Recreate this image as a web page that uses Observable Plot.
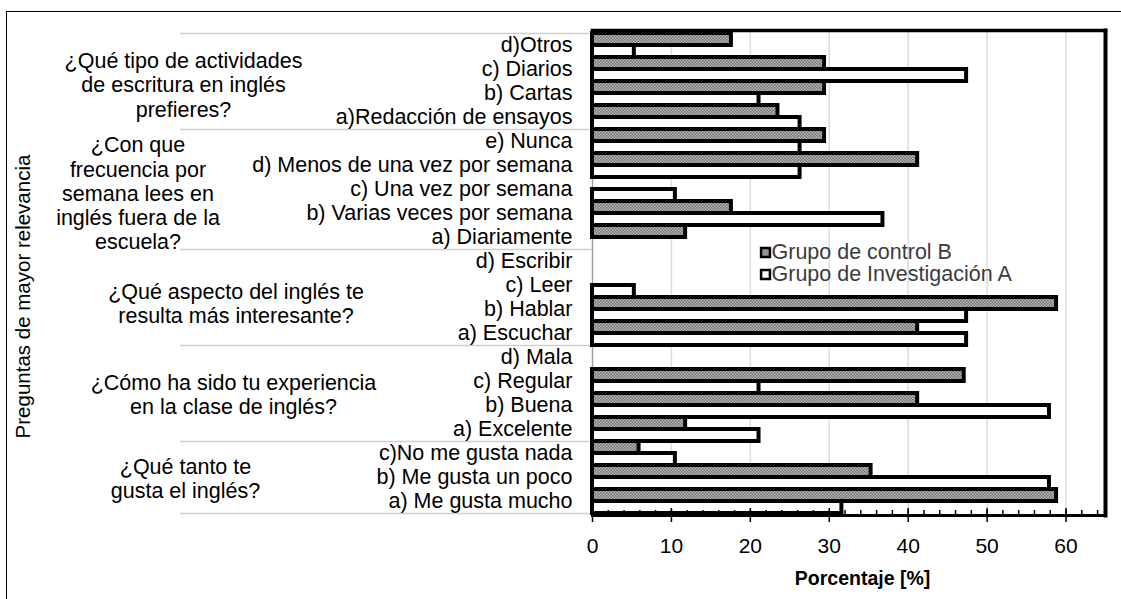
<!DOCTYPE html>
<html><head><meta charset="utf-8">
<script src="https://cdn.jsdelivr.net/npm/d3@7"></script>
<script src="https://cdn.jsdelivr.net/npm/@observablehq/plot@0.6"></script>
<style>
html,body{margin:0;padding:0;background:#fff;}
#wrap{position:relative;width:1121px;height:599px;overflow:hidden;background:#fff;}
#outer{position:absolute;left:6px;top:11px;width:1300px;height:800px;border-left:1.5px solid #000;border-top:1.5px solid #000;pointer-events:none;}
</style></head>
<body><div id="wrap"><div id="outer"></div></div>
<script>
// ---- data ----
const categories = [
  "d)Otros","c) Diarios","b) Cartas","a)Redacción de ensayos",
  "e) Nunca","d) Menos de una vez por semana","c) Una vez por semana","b) Varias veces por semana","a) Diariamente",
  "d) Escribir","c) Leer","b) Hablar","a) Escuchar",
  "d) Mala","c) Regular","b) Buena","a) Excelente",
  "c)No me gusta nada","b) Me gusta un poco","a) Me gusta mucho"
];
const grupoB = [17.6,29.4,29.4,23.5, 29.4,41.2,0,17.6,11.8, 0,0,58.8,41.2, 0,47.1,41.2,11.8, 5.9,35.3,58.8];
const grupoA = [5.3,47.4,21.1,26.3, 26.3,26.3,10.5,36.8,0, 0,5.3,47.4,47.4, 0,21.1,57.9,21.1, 10.5,57.9,31.6];
const questions = [
  "¿Qué tipo de actividades\nde escritura en inglés\nprefieres?",
  "¿Con que\nfrecuencia por\nsemana lees en\ninglés fuera de la\nescuela?",
  "¿Qué aspecto del inglés te\nresulta más interesante?",
  "¿Cómo ha sido tu experiencia\nen la clase de inglés?",
  "¿Qué tanto te\ngusta el inglés?"
];
const questionSizes = [4,5,4,4,3];
const seriesNames = ["Grupo de control B","Grupo de Investigación A"];
const xTicks = [0,10,20,30,40,50,60];
const xMinorTicks = [0,2,4,6,8,10,12,14,16,18,20,22,24,26,28,30,32,34,36,38,40,42,44,46,48,50,52,54,56,58,60,62,64];
const xLabel = "Porcentaje [%]";
const yLabel = "Preguntas de mayor relevancia";

// ---- layout ----
const W = 1121, H = 599, ML = 592, MR = 16, MT = 30, MB = 84;
const bw = (H - MT - MB) / (categories.length * 2);
const qLayout = [{cx:183, off:2.5},{cx:137.5, off:3},{cx:235.5, off:5},{cx:233, off:0},{cx:185, off:0.5}];
const FONT = "'Liberation Sans', Arial, sans-serif";

const keyB = c => c + "|B", keyA = c => c + "|A";
const rows = categories.flatMap((c, i) => [
  {cat: c, key: keyB(c), group: "B", value: grupoB[i]},
  {cat: c, key: keyA(c), group: "A", value: grupoA[i]}
]);
const yDomain = rows.map(d => d.key);

const groupFirst = [];
let s = 0;
questionSizes.forEach(n => { groupFirst.push({first: categories[s], n}); s += n; });

const qMarks = questions.map((q, i) => Plot.text([q], {
  text: d => d, y: () => keyB(groupFirst[i].first),
  frameAnchor: "left", dx: qLayout[i].cx - ML,
  dy: -bw/2 + groupFirst[i].n * bw + qLayout[i].off,
  textAnchor: "middle", lineAnchor: "middle", lineHeight: 1.13,
  fontSize: 21.5, fill: "#000"
}));

const chart = Plot.plot({
  width: W, height: H,
  marginLeft: ML, marginRight: MR, marginTop: MT, marginBottom: MB,
  style: {fontFamily: FONT, fontSize: "21px", color: "#000", background: "transparent", overflow: "visible"},
  x: {domain: [0, 65]},
  y: {domain: yDomain, padding: 0, axis: null},
  marks: [
    Plot.gridX(xTicks.filter(t => t > 0), {stroke: "#dcdcdc", strokeOpacity: 1, strokeWidth: 1.5}),
    Plot.ruleX([0], {stroke: "#a0a0a0", strokeWidth: 1.5}),
    Plot.ruleY(groupFirst.map(g => keyB(g.first)), {dy: -bw/2, insetLeft: 180 - ML, insetRight: W - MR - ML, stroke: "#cfcfcf", strokeWidth: 1.5}),
    Plot.ruleY([keyA(categories[categories.length - 1])], {dy: bw/2, insetLeft: 180 - ML, insetRight: W - MR - ML, stroke: "#cfcfcf", strokeWidth: 1.5}),
    Plot.barX(rows.filter(d => d.group === "B" && d.value > 0), {x: "value", y: "key", fill: "url(#dots)", stroke: "#000", strokeWidth: 4}),
    Plot.barX(rows.filter(d => d.group === "A" && d.value > 0), {x: "value", y: "key", fill: "#fff", stroke: "#000", strokeWidth: 4}),
    Plot.frame({anchor: "top", stroke: "#000", strokeWidth: 3.5}),
    Plot.frame({anchor: "right", stroke: "#000", strokeWidth: 4}),
    Plot.frame({anchor: "bottom", stroke: "#000", strokeWidth: 3}),
    Plot.axisX(xTicks, {anchor: "bottom", tickSize: 7, tickPadding: 16, fontSize: 21, label: null, strokeWidth: 1.5, tickFormat: d => String(d)}),
    Plot.axisX(xMinorTicks, {anchor: "bottom", tickSize: -5, label: null, strokeWidth: 1.5, tickFormat: () => ""}),
    Plot.axisX(xTicks, {anchor: "bottom", tickSize: -7, label: null, strokeWidth: 1.5, tickFormat: () => ""}),
    Plot.text(categories, {y: d => keyB(d), dy: bw/2, frameAnchor: "left", dx: -20, textAnchor: "end", lineAnchor: "middle", fontSize: 21.5, fill: "#000"}),
    ...qMarks,
    Plot.text([yLabel], {frameAnchor: "left", dx: 23 - ML, dy: 23.5, rotate: -90, textAnchor: "middle", lineAnchor: "middle", fontSize: 20.5, fill: "#000"}),
    Plot.text([xLabel], {frameAnchor: "bottom", dx: 13.5, dy: 63, textAnchor: "middle", lineAnchor: "middle", fontSize: 19.5, fontWeight: "bold", fill: "#000"}),
    // legend
    Plot.dot([seriesNames[0]], {frameAnchor: "top-left", dx: 765 - ML, dy: 252 - MT, symbol: "square", r: 5, fill: "url(#dots)", stroke: "#000", strokeWidth: 2.5}),
    Plot.dot([seriesNames[1]], {frameAnchor: "top-left", dx: 765 - ML, dy: 274 - MT, symbol: "square", r: 5, fill: "#fff", stroke: "#000", strokeWidth: 2.5}),
    Plot.text([seriesNames[0]], {frameAnchor: "top-left", dx: 771 - ML, dy: 252 - MT, textAnchor: "start", lineAnchor: "middle", fontSize: 21.5, fill: "#3c3c3c"}),
    Plot.text([seriesNames[1]], {frameAnchor: "top-left", dx: 771 - ML, dy: 274 - MT, textAnchor: "start", lineAnchor: "middle", fontSize: 21.5, fill: "#3c3c3c"})
  ]
});

const svg = d3.select(chart);
const defs = svg.insert("defs", ":first-child");
const pat = defs.append("pattern").attr("id", "dots").attr("width", 3).attr("height", 3).attr("patternUnits", "userSpaceOnUse");
pat.append("rect").attr("width", 3).attr("height", 3).attr("fill", "#bdbdbd");
pat.append("rect").attr("width", 1.5).attr("height", 1.5).attr("fill", "#6e6e6e");
pat.append("rect").attr("x", 1.5).attr("y", 1.5).attr("width", 1.5).attr("height", 1.5).attr("fill", "#6e6e6e");
chart.style.position = "absolute";
chart.style.left = "0px";
chart.style.top = "0px";
document.getElementById("wrap").appendChild(chart);
</script>
</body></html>
